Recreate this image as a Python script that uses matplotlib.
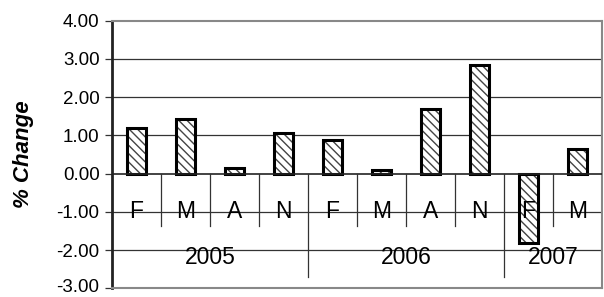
import matplotlib
matplotlib.use("Agg")
import matplotlib.pyplot as plt
import matplotlib.transforms as mtransforms
import numpy as np

months = ["F", "M", "A", "N", "F", "M", "A", "N", "F", "M"]
years = ["2005", "2006", "2007"]
year_counts = [4, 4, 2]
values = [1.20, 1.42, 0.15, 1.07, 0.87, 0.10, 1.70, 2.83, -1.82, 0.65]
yticks = [4.0, 3.0, 2.0, 1.0, 0.0, -1.0, -2.0, -3.0]

plt.rcParams['font.family'] = ['Liberation Sans', 'DejaVu Sans']
plt.rcParams['hatch.linewidth'] = 1.0

fig = plt.figure(figsize=(6.04, 2.97), dpi=100)
ax = fig.add_axes([112/604, 1-288.3/297, (602-112)/604, (288.3-20.7)/297])

x = np.arange(len(values))
ax.set_xlim(-0.5, len(values) - 0.5)
ax.set_ylim(-3, 4)

for t in yticks:
    if t not in (4.0, -3.0, 0.0):
        ax.axhline(t, color='#333333', lw=0.9, zorder=1)
ax.axhline(0, color='#222222', lw=1.2, zorder=4)

ax.bar(x, values, width=0.4, color='white', edgecolor='#444444', hatch='\\\\\\\\', lw=0, zorder=2)
ax.bar(x, values, width=0.4, fill=False, edgecolor='black', lw=2.2, zorder=3)

for i, m in enumerate(months):
    ax.text(i, -1.0, m, ha='center', va='center', fontsize=16.5, zorder=5)
bounds = np.cumsum(year_counts)
for i in range(1, len(values)):
    if i in bounds:
        ax.plot([i - 0.5, i - 0.5], [0, -2.7], color='#333333', lw=0.9, zorder=4)
    else:
        ax.plot([i - 0.5, i - 0.5], [0, -1.38], color='#333333', lw=0.9, zorder=4)
start = 0
for y, c in zip(years, year_counts):
    ax.text(start + c / 2 - 0.5, -2.2, y, ha='center', va='center', fontsize=16.5, zorder=5)
    start += c

ax.set_xticks([])
ax.set_yticks(yticks)
ax.set_yticklabels([f"{t:.2f}" for t in yticks], fontsize=13.5)
ax.tick_params(axis='y', direction='out', length=5, width=0.9, color='#333333', pad=4)

# keep the lowest tick label inside the canvas
fig.canvas.draw()
for lab in ax.get_yticklabels():
    if lab.get_text() == "-3.00":
        lab.set_transform(lab.get_transform() +
                          mtransforms.ScaledTranslation(0, 3/100, fig.dpi_scale_trans))

for s in ['top', 'right', 'bottom']:
    ax.spines[s].set_color('#888888')
    ax.spines[s].set_linewidth(1.5)
ax.spines['left'].set_color('#222222')
ax.spines['left'].set_linewidth(2)

fig.text(24/604, 1-154/297, "% Change", rotation=90, ha='center', va='center',
         fontsize=16, fontweight='bold', fontstyle='italic')

fig.savefig("out.png", dpi=100)
